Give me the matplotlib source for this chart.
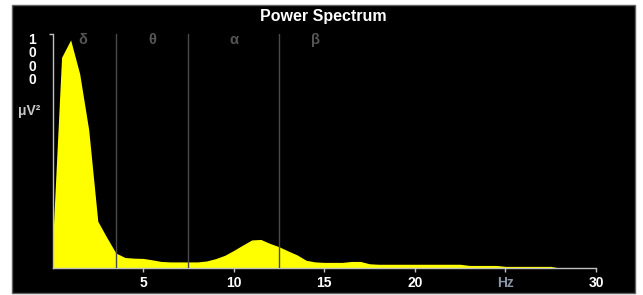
import numpy as np
from matplotlib import pyplot as plt
from matplotlib.patches import Rectangle

# spectrum, 0.5 Hz steps (uV^2)
freq = np.arange(0, 30.5, 0.5)
power = [98, 900, 975, 830, 590, 200, 130, 64, 45, 42,
         41, 35, 28, 26, 26, 26, 26, 30, 40, 54,
         75, 98, 120, 122, 105, 91, 73, 56, 33, 26,
         24, 24, 24, 28, 28, 18, 16, 16, 16, 16,
         16, 16, 16, 16, 16, 16, 11, 11, 11, 11,
         7, 7, 7, 7, 7, 7, 0, 0, 0, 0, 0]

band_edges = [3.5, 7.5, 12.5]
band_names = ['δ', 'θ', 'α', 'β']
band_pos = [1.7, 5.5, 10.0, 14.5]

xticks = [5, 10, 15, 20, 25, 30]
xticklabels = ['5', '10', '15', '20', 'Hz', '30']

W, H = 643, 295
fig = plt.figure(figsize=(W / 100, H / 100), dpi=100)
fig.patch.set_facecolor('white')
fig.patches.append(Rectangle((12 / W, 1 - 293 / H), 623 / W, 288 / H,
                             transform=fig.transFigure, facecolor='black',
                             edgecolor='#606060', linewidth=1.0, zorder=-10))

ax = fig.add_axes([52.5 / W, 1 - 268 / H, (596 - 52.5) / W, (268 - 34) / H])
ax.set_zorder(5)
ax.patch.set_alpha(0)

ax.fill_between(freq, power, 0, color='#ffff00', linewidth=0, zorder=2)
for b in band_edges:
    ax.axvline(b, color='#4a4a4a', linewidth=1.0, zorder=3)
for name, p in zip(band_names, band_pos):
    ax.text(p, 975, name, color='#555555', fontsize=10.5, fontweight='bold',
            ha='center', va='center', family=['Liberation Sans', 'DejaVu Sans'])

ax.set_xlim(0, 30)
ax.set_ylim(0, 1000)
for s in ['top', 'right']:
    ax.spines[s].set_visible(False)
for s in ['left', 'bottom']:
    ax.spines[s].set_color('#c0c0c0')
    ax.spines[s].set_linewidth(1.0)

ax.set_xticks(xticks)
ax.set_xticklabels(xticklabels, fontsize=10, fontweight='bold',
                   family='Liberation Sans')
ax.tick_params(axis='x', colors='#c0c0c0', length=3, width=1, pad=3)
for lbl in ax.get_xticklabels():
    lbl.set_color('#8a96aa' if lbl.get_text() == 'Hz' else 'white')
ax.set_yticks([1000])
ax.set_yticklabels([''])
ax.tick_params(axis='y', colors='#c0c0c0', length=3, width=1)

# stacked "1000" and unit on the left
for i, ch in enumerate('1000'):
    fig.text(32 / W, 1 - (39.5 + 13.6 * i) / H, ch, color='white', fontsize=10,
             fontweight='bold', ha='center', va='center', family='Liberation Sans')
fig.text(29 / W, 1 - 111 / H, 'μV²', color='#c8c8c8', fontsize=10,
         fontweight='bold', ha='center', va='center', family='Liberation Sans')

fig.text(323 / W, 1 - 16 / H, 'Power Spectrum', color='white', fontsize=11.5,
         fontweight='bold', ha='center', va='center', family='Liberation Sans')

fig.savefig('out.png', dpi=100, facecolor=fig.get_facecolor())
